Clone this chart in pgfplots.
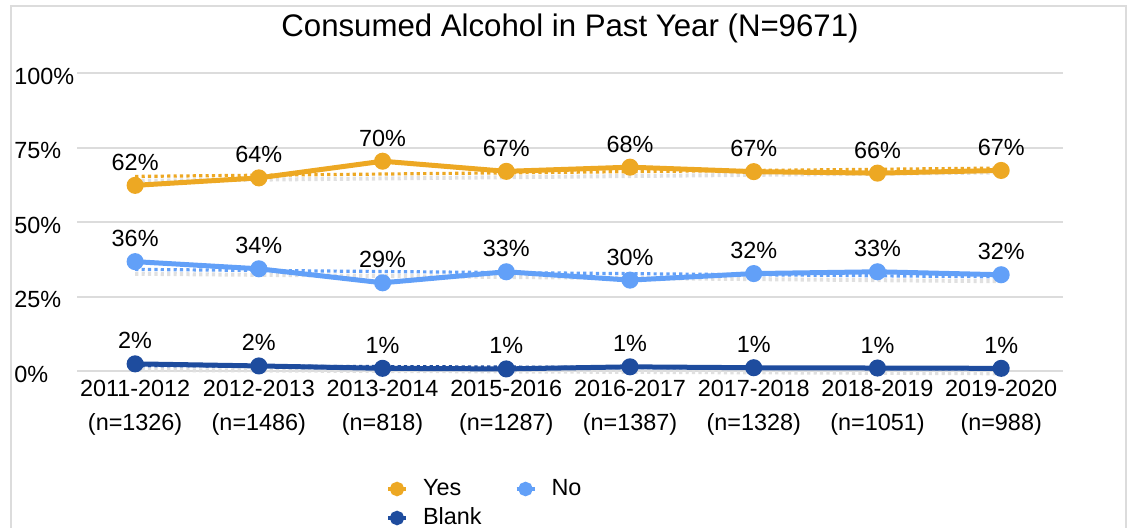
\documentclass[border=0pt]{standalone}
\usepackage{fontspec}
\setmainfont{Liberation Sans}
\usepackage{pgfplots}
\pgfplotsset{compat=1.18}

\definecolor{yescol}{HTML}{EDA823}
\definecolor{nocol}{HTML}{62A0F8}
\definecolor{blankcol}{HTML}{1E4C9E}
\definecolor{gridgray}{HTML}{DCDCDC}

\newcommand{\lbl}{\fontsize{11.7}{14}\selectfont}

\begin{document}
\begin{tikzpicture}
\begin{axis}[
  at={(38.5pt,78pt)}, anchor=south west,
  scale only axis, width=493pt, height=149pt,
  xmin=-0.47, xmax=7.5, ymin=0, ymax=100,
  clip=false,
  axis line style={draw=none},
  major tick length=0pt,
  ymajorgrids, grid style={gridgray, line width=1pt},
  ytick={0,25,50,75,100},
  yticklabels={0\%,25\%,50\%,75\%,100\%},
  yticklabel style={anchor=west, inner sep=0pt, xshift=-31.5pt, yshift=-1.5pt, font=\lbl},
  xtick={0,...,7},
  xticklabels={{2011-2012\\(n=1326)},{2012-2013\\(n=1486)},{2013-2014\\(n=818)},
    {2015-2016\\(n=1287)},{2016-2017\\(n=1387)},{2017-2018\\(n=1328)},
    {2018-2019\\(n=1051)},{2019-2020\\(n=988)}},
  xticklabel style={align=center, anchor=north, inner sep=0pt, yshift=-4.5pt,
    font=\fontsize{11.7}{17}\selectfont},
  title={Consumed Alcohol in Past Year (N=9671)},
  title style={at={(axis description cs:0.5,1)}, anchor=center, yshift=16.5pt,
    font=\fontsize{15.6}{18}\selectfont},
  legend columns=2,
  legend cell align=left,
  legend style={draw=none, fill=none, inner sep=0pt, outer sep=0pt,
    at={(0.3134,-0.3473)}, anchor=north west, font=\lbl,
    nodes={inner sep=1.5pt, text height=9pt, text depth=2.5pt},
    /tikz/every odd column/.append style={column sep=6pt},
    /tikz/every even column/.append style={column sep=15pt}},
  legend image code/.code={
    \draw[mark repeat=2, mark phase=2, #1, mark size=2.6pt, line width=2pt]
      plot coordinates {(-4.5pt,0pt) (0pt,0pt) (4.5pt,0pt)};},
  every node near coord/.append style={font=\lbl, text=black, anchor=base,
    inner sep=0pt, yshift=7.5pt},
]
% trend lines with their faint shadow
\addplot[black!12, line width=2pt, dash pattern=on 1.6pt off 1.6pt, yshift=-2.2pt, forget plot]
  coordinates {(0,65.3) (7,68.1)};
\addplot[yescol, line width=1.6pt, dash pattern=on 1.6pt off 1.6pt, forget plot]
  coordinates {(0,65.3) (7,68.1)};
\addplot[black!12, line width=2pt, dash pattern=on 1.6pt off 1.6pt, yshift=-2.2pt, forget plot]
  coordinates {(0,34.1) (7,31.6)};
\addplot[nocol, line width=1.6pt, dash pattern=on 1.6pt off 1.6pt, forget plot]
  coordinates {(0,34.1) (7,31.6)};
\addplot[black!12, line width=2pt, dash pattern=on 1.6pt off 1.6pt, yshift=-2.2pt, forget plot]
  coordinates {(0,1.8) (7,0.7)};
\addplot[blankcol, line width=1.6pt, dash pattern=on 1.6pt off 1.6pt, forget plot]
  coordinates {(0,1.8) (7,0.7)};

% data
\addplot[yescol, line width=2.5pt, mark=*, mark size=3pt,
  point meta=explicit symbolic, nodes near coords] coordinates {
  (0,62.3) [62\%] (1,64.8) [64\%] (2,70.4) [70\%] (3,67.0) [67\%]
  (4,68.4) [68\%] (5,66.9) [67\%] (6,66.4) [66\%] (7,67.3) [67\%]
};
\addlegendentry{Yes}
\addplot[nocol, line width=2.5pt, mark=*, mark size=3pt,
  point meta=explicit symbolic, nodes near coords] coordinates {
  (0,36.7) [36\%] (1,34.3) [34\%] (2,29.6) [29\%] (3,33.3) [33\%]
  (4,30.5) [30\%] (5,32.7) [32\%] (6,33.3) [33\%] (7,32.3) [32\%]
};
\addlegendentry{No}
\addplot[blankcol, line width=2.5pt, mark=*, mark size=3pt,
  point meta=explicit symbolic, nodes near coords] coordinates {
  (0,2.4) [2\%] (1,1.7) [2\%] (2,0.9) [1\%] (3,0.7) [1\%]
  (4,1.4) [1\%] (5,1.1) [1\%] (6,1.0) [1\%] (7,0.9) [1\%]
};
\addlegendentry{Blank}
\end{axis}
\draw[gridgray, line width=1pt] (5.5pt,-20pt) |- (563pt,260.5pt) -- (563pt,-20pt);
\pgfresetboundingbox
\useasboundingbox (0,0) rectangle (564pt,263.5pt);
\end{tikzpicture}
\end{document}
